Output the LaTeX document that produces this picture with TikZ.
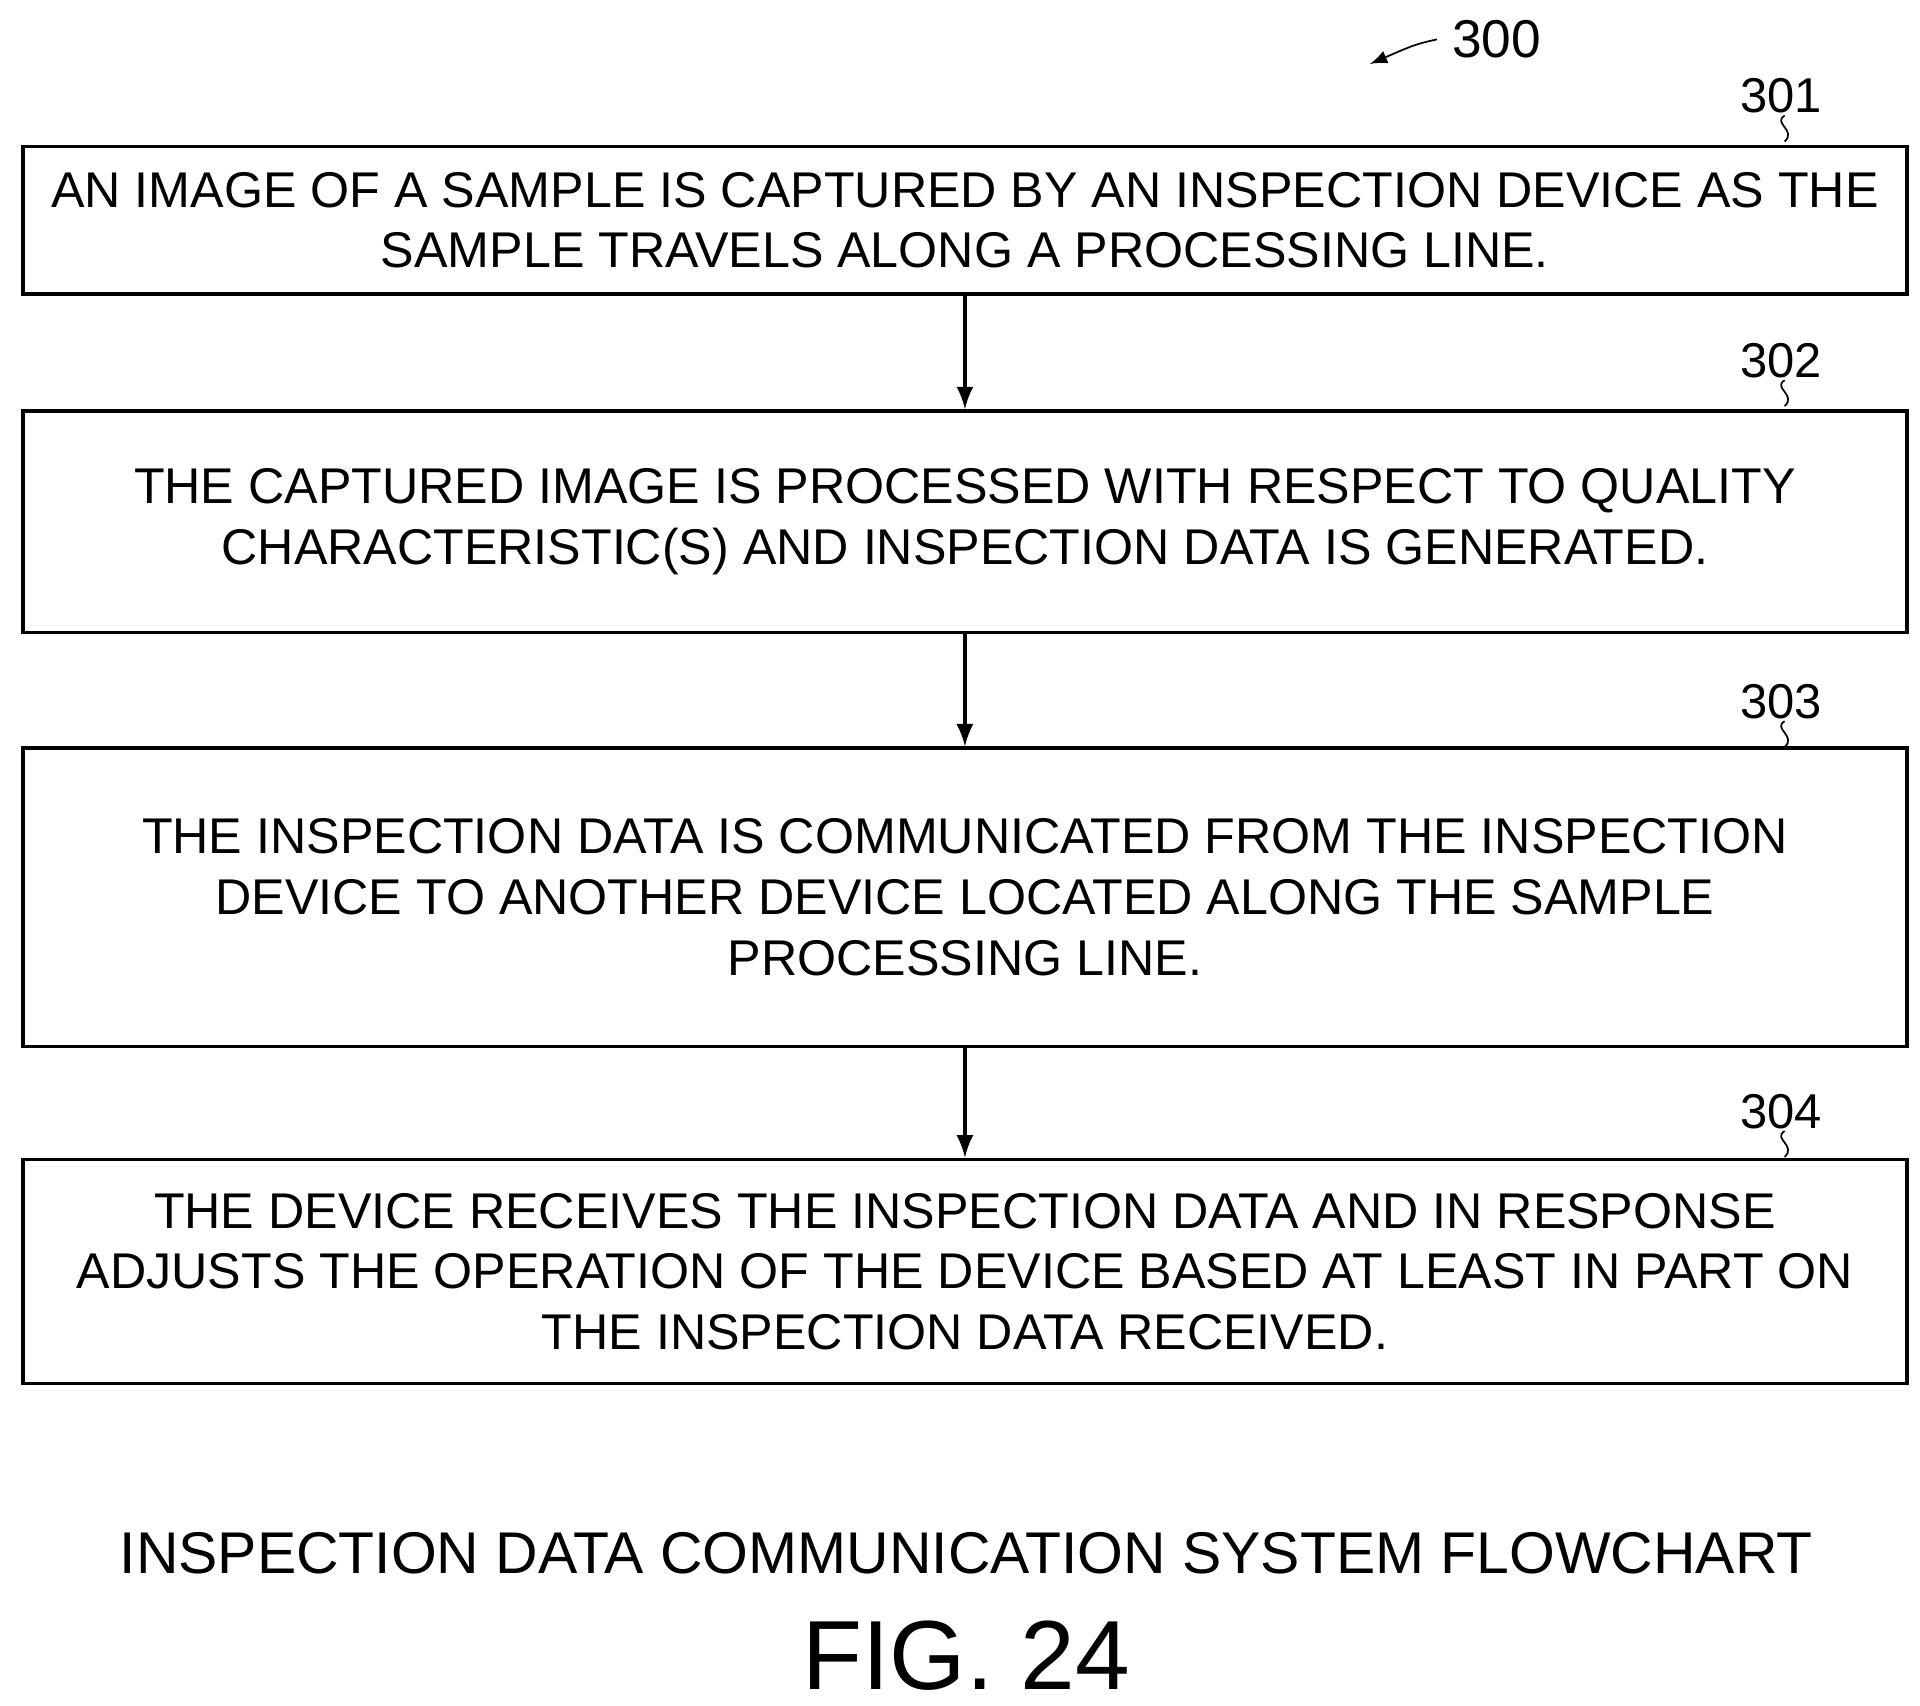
\documentclass[tikz,border=0pt]{standalone}
\usepackage{fontspec}
\setmainfont{Liberation Sans}
\usetikzlibrary{positioning}

\begin{document}
\begin{tikzpicture}[x=0.01cm,y=-0.01cm,
    stepbox/.style={draw,thick,minimum width=15.3cm,align=center,
                 font=\fontsize{11.6}{14}\selectfont,inner sep=0pt},
    ref/.style={font=\fontsize{11.3}{14}\selectfont},
    flow/.style={-latex,thick}]
    \useasboundingbox (0,0) rectangle (1560,1386);
    % steps
    \node [stepbox,minimum height=1.2cm] (s301) at (784,179)
        {AN IMAGE OF A SAMPLE IS CAPTURED BY AN INSPECTION DEVICE AS THE\\SAMPLE TRAVELS ALONG A PROCESSING LINE.};
    \node [stepbox,minimum height=1.8cm] (s302) at (784,424)
        {THE CAPTURED IMAGE IS PROCESSED WITH RESPECT TO QUALITY\\CHARACTERISTIC(S) AND INSPECTION DATA IS GENERATED.};
    \node [stepbox,minimum height=2.42cm] (s303) at (784,729)
        {THE INSPECTION DATA IS COMMUNICATED FROM THE INSPECTION\\DEVICE TO ANOTHER DEVICE LOCATED ALONG THE SAMPLE\\PROCESSING LINE.};
    \node [stepbox,minimum height=1.82cm] (s304) at (784,1033)
        {THE DEVICE RECEIVES THE INSPECTION DATA AND IN RESPONSE\\ADJUSTS THE OPERATION OF THE DEVICE BASED AT LEAST IN PART ON\\THE INSPECTION DATA RECEIVED.};
    \draw [flow] (s301) -- (s302);
    \draw [flow] (s302) -- (s303);
    \draw [flow] (s303) -- (s304);
    % reference numerals
    \foreach \n/\y in {301/78,302/293,303/570,304/903}{
        \node [ref] (r\n) at (1447,\y) {\n};
        \draw (1450,\y+16) .. controls (1440,\y+22) and (1460,\y+28) .. (1450,\y+37);
    }
    \node [ref,font=\fontsize{12.3}{14}\selectfont] (r300) at (1216,32) {300};
    \coordinate (t300) at (1113,52);
    \draw [-latex] (r300.west) .. controls (1150,36) .. (t300);
    % captions
    \node [font=\fontsize{13.6}{16}\selectfont] (title) at (785,1262) {INSPECTION DATA COMMUNICATION SYSTEM FLOWCHART};
    \node [font=\fontsize{22.7}{26}\selectfont] (fig) at (785,1345) {FIG. 24};
\end{tikzpicture}
\end{document}
